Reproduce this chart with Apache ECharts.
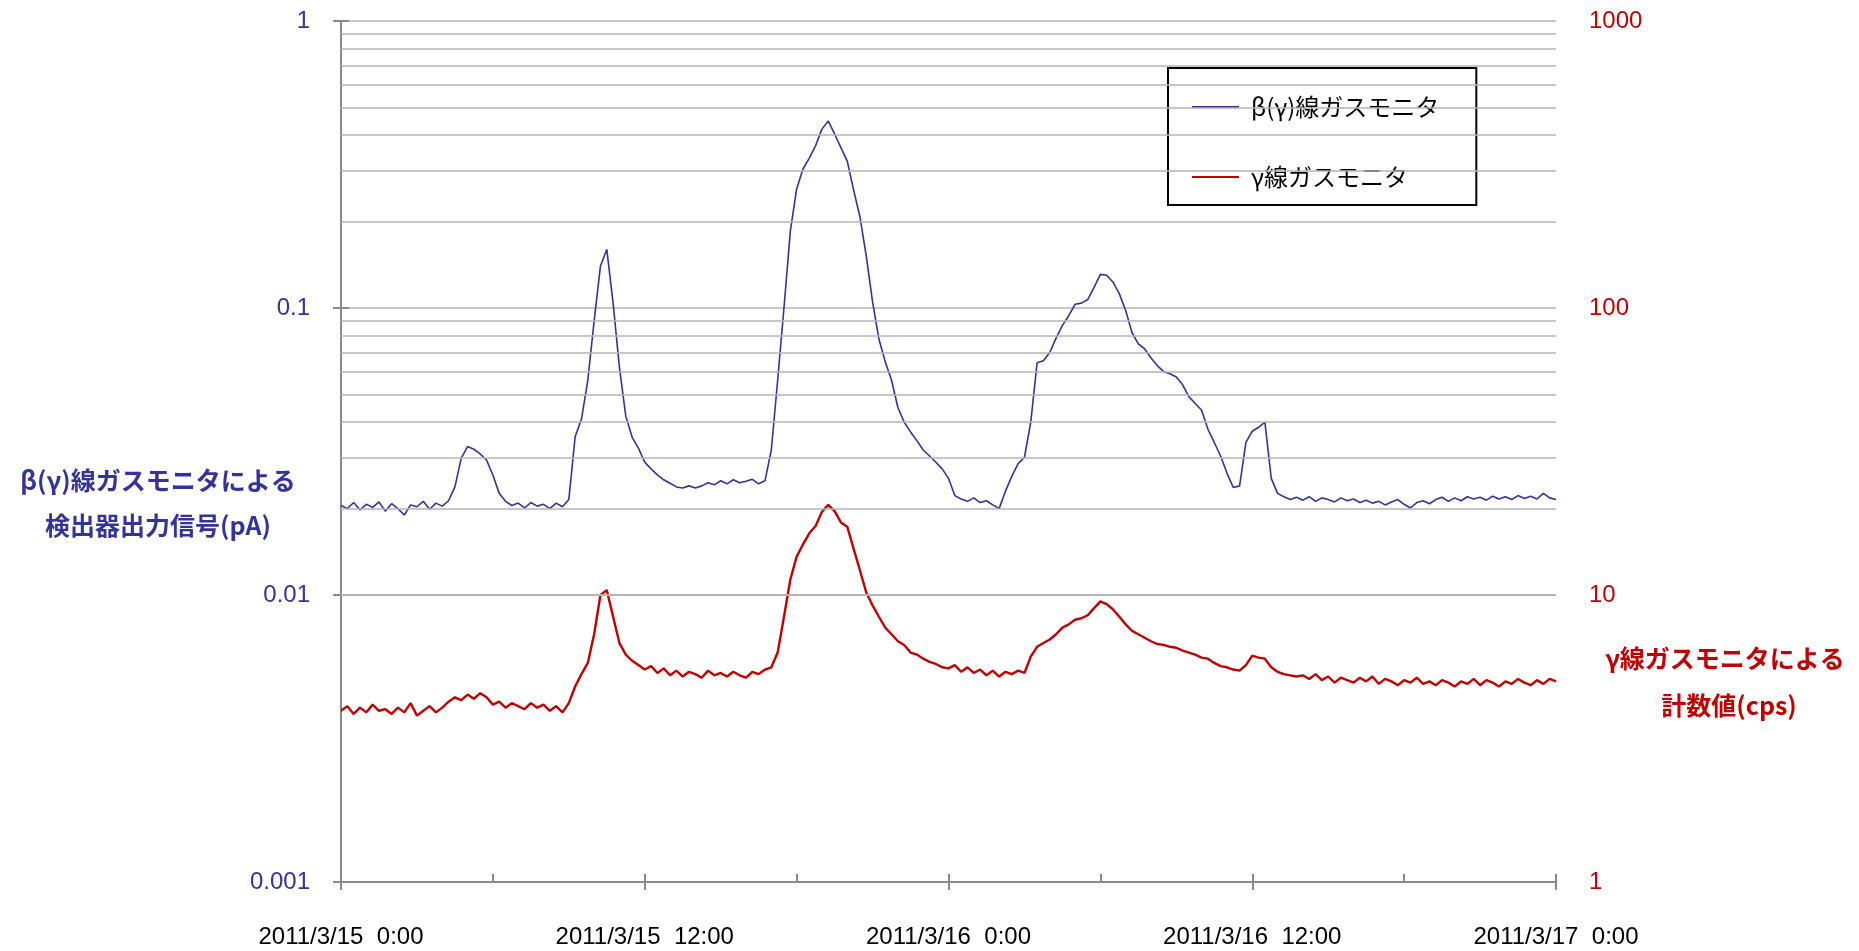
<!DOCTYPE html>
<html>
<head>
<meta charset="utf-8">
<title>ガスモニタ</title>
<script src="https://cdn.jsdelivr.net/npm/echarts@6/dist/echarts.min.js"></script>
<style>
  html, body { margin: 0; padding: 0; background: #fff; }
  #chart { width: 1859px; height: 951px; }
</style>
</head>
<body>
<div id="chart"></div>
<script>
// samples every 15 minutes from 2011/3/15 0:00 (hours since start)
const stepHours = 0.25

const xTickLabels = ['2011/3/15  0:00', '2011/3/15  12:00', '2011/3/16  0:00', '2011/3/16  12:00', '2011/3/17  0:00']

// β(γ)線ガスモニタ 検出器出力信号 (pA)
const blueSignal = [
  0.0205, 0.0200, 0.0210, 0.0198,
  0.0207, 0.0202, 0.0211, 0.0196,
  0.0208, 0.0200, 0.0190, 0.0206,
  0.0203, 0.0212, 0.0199, 0.0209,
  0.0204, 0.0213, 0.0238, 0.0300,
  0.0329, 0.0322, 0.0310, 0.0295,
  0.0262, 0.0226, 0.0212, 0.0205,
  0.0209, 0.0201, 0.0210, 0.0204,
  0.0207, 0.0200, 0.0209, 0.0203,
  0.0215, 0.0356, 0.0410, 0.0560,
  0.0900, 0.1400, 0.1600, 0.1040,
  0.0620, 0.0420, 0.0355, 0.0325,
  0.0290, 0.0275, 0.0262, 0.0252,
  0.0245, 0.0238, 0.0236, 0.0240,
  0.0236, 0.0240, 0.0246, 0.0242,
  0.0250, 0.0244, 0.0252, 0.0246,
  0.0249, 0.0253, 0.0244, 0.0250,
  0.0320, 0.0560, 0.1000, 0.1850,
  0.2600, 0.3050, 0.3330, 0.3680,
  0.4200, 0.4480, 0.4040, 0.3620,
  0.3250, 0.2580, 0.2080, 0.1520,
  0.1050, 0.0780, 0.0650, 0.0560,
  0.0450, 0.0400, 0.0370, 0.0345,
  0.0320, 0.0305, 0.0290, 0.0275,
  0.0255, 0.0222, 0.0216, 0.0212,
  0.0218, 0.0210, 0.0213, 0.0206,
  0.0200, 0.0230, 0.0259, 0.0287,
  0.0302, 0.0400, 0.0645, 0.0655,
  0.0700, 0.0785, 0.0870, 0.0940,
  0.1030, 0.1040, 0.1070, 0.1180,
  0.1310, 0.1300, 0.1230, 0.1120,
  0.0980, 0.0820, 0.0750, 0.0720,
  0.0670, 0.0630, 0.0600, 0.0590,
  0.0575, 0.0540, 0.0490, 0.0465,
  0.0440, 0.0378, 0.0340, 0.0305,
  0.0266, 0.0237, 0.0240, 0.0340,
  0.0372, 0.0384, 0.0400, 0.0255,
  0.0226, 0.0220, 0.0215, 0.0219,
  0.0214, 0.0220, 0.0212, 0.0218,
  0.0215, 0.0211, 0.0218, 0.0213,
  0.0216, 0.0210, 0.0214, 0.0209,
  0.0212, 0.0206, 0.0211, 0.0215,
  0.0207, 0.0201, 0.0210, 0.0213,
  0.0208, 0.0215, 0.0219, 0.0212,
  0.0218, 0.0213, 0.0220, 0.0216,
  0.0219, 0.0214, 0.0221, 0.0216,
  0.0220, 0.0215, 0.0222, 0.0217,
  0.0221, 0.0216, 0.0226, 0.0218,
  0.0215
]

// γ線ガスモニタ 計数値 (cps)
const redCounts = [
  3.95, 4.10, 3.85, 4.05,
  3.90, 4.15, 3.95, 4.00,
  3.85, 4.05, 3.90, 4.20,
  3.80, 3.95, 4.10, 3.90,
  4.05, 4.25, 4.40, 4.30,
  4.50, 4.35, 4.55, 4.40,
  4.15, 4.25, 4.05, 4.20,
  4.10, 4.00, 4.20, 4.05,
  4.15, 3.95, 4.10, 3.90,
  4.20, 4.80, 5.30, 5.80,
  7.30, 10.0, 10.4, 8.40,
  6.80, 6.20, 5.90, 5.70,
  5.50, 5.65, 5.35, 5.55,
  5.25, 5.45, 5.20, 5.40,
  5.30, 5.15, 5.45, 5.25,
  5.35, 5.20, 5.40, 5.25,
  5.15, 5.40, 5.30, 5.50,
  5.60, 6.30, 8.40, 11.3,
  13.6, 15.0, 16.4, 17.4,
  19.5, 20.6, 19.6, 17.9,
  17.3, 14.5, 12.2, 10.2,
  9.20, 8.40, 7.70, 7.30,
  6.90, 6.70, 6.30, 6.20,
  6.00, 5.85, 5.75, 5.60,
  5.55, 5.70, 5.40, 5.60,
  5.35, 5.50, 5.25, 5.45,
  5.20, 5.40, 5.30, 5.45,
  5.35, 6.10, 6.60, 6.80,
  7.00, 7.30, 7.70, 7.90,
  8.20, 8.30, 8.50, 9.00,
  9.50, 9.30, 8.90, 8.40,
  7.90, 7.50, 7.30, 7.10,
  6.90, 6.75, 6.70, 6.60,
  6.55, 6.40, 6.30, 6.20,
  6.05, 6.00, 5.80, 5.65,
  5.60, 5.50, 5.45, 5.70,
  6.15, 6.05, 6.00, 5.60,
  5.40, 5.30, 5.25, 5.20,
  5.25, 5.10, 5.30, 5.05,
  5.20, 4.95, 5.15, 5.05,
  4.95, 5.15, 5.00, 5.20,
  4.90, 5.10, 5.00, 4.85,
  5.05, 4.95, 5.15, 4.90,
  5.00, 4.85, 5.05, 4.95,
  4.80, 5.00, 4.90, 5.10,
  4.85, 5.05, 4.95, 4.80,
  5.00, 4.90, 5.10, 4.95,
  4.85, 5.05, 4.90, 5.10,
  5.00
]

const seriesNames = ['β(γ)線ガスモニタ', 'γ線ガスモニタ']

const BLUE = '#333399'
const RED = '#c00000'
const GRID_GRAY = '#b4b4b4'
const AXIS_GRAY = '#8a8a8a'
const LATIN = '"Liberation Sans", Arial, sans-serif'
const CJK = '"Noto Sans CJK JP", sans-serif'

// minor grid lines 2..9 of each decade on the left (pA) axis
const minorLevels = []
for (const decade of [0.001, 0.01, 0.1]) {
  for (let k = 2; k <= 9; k++) minorLevels.push(+(k * decade).toPrecision(2))
}

const toPairs = (arr) => arr.map((v, i) => [i * stepHours, v])

const chart = echarts.init(document.getElementById('chart'))

const option = {
  animation: false,
  backgroundColor: '#fff',
  grid: { left: 341, right: 303, top: 21, bottom: 69 },
  legend: {
    orient: 'vertical',
    left: 1168,
    top: 68,
    padding: [27, 37, 16, 24],
    itemGap: 46,
    itemWidth: 47,
    itemHeight: 2,
    icon: 'rect',
    borderColor: '#000',
    borderWidth: 2,
    backgroundColor: '#fff',
    textStyle: { fontFamily: CJK, fontSize: 24, color: '#000', padding: [0, 0, 0, 7] },
    data: seriesNames
  },
  xAxis: [
    {
      type: 'value',
      min: 0,
      max: 48,
      interval: 12,
      axisLine: { lineStyle: { color: AXIS_GRAY, width: 2 } },
      axisTick: { show: true, inside: false, length: 8, lineStyle: { color: AXIS_GRAY, width: 2 } },
      splitLine: { show: false },
      axisLabel: {
        margin: 43,
        color: '#000',
        fontFamily: LATIN,
        fontSize: 24,
        formatter: (v) => xTickLabels[Math.round(v / 12)]
      }
    },
    {
      // inner tick marks every 6 hours
      type: 'value',
      position: 'bottom',
      min: 0,
      max: 48,
      interval: 6,
      axisLine: { show: false },
      axisTick: { show: true, inside: true, length: 8, lineStyle: { color: AXIS_GRAY, width: 2 } },
      axisLabel: { show: false },
      splitLine: { show: false }
    }
  ],
  yAxis: [
    {
      type: 'log',
      logBase: 10,
      min: 0.001,
      max: 1,
      position: 'left',
      axisLine: { show: true, lineStyle: { color: AXIS_GRAY, width: 2 } },
      axisTick: { show: true, inside: false, length: 8, lineStyle: { color: AXIS_GRAY, width: 2 } },
      splitLine: { show: true, lineStyle: { color: GRID_GRAY, width: 1.5 } },
      axisLabel: {
        margin: 31,
        color: BLUE,
        fontFamily: LATIN,
        fontSize: 24,
        formatter: (v) => String(Number(Number(v).toPrecision(1)))
      }
    },
    {
      type: 'log',
      logBase: 10,
      min: 1,
      max: 1000,
      position: 'right',
      axisLine: { show: true, lineStyle: { color: AXIS_GRAY, width: 2 } },
      axisTick: { show: true, inside: false, length: 8, lineStyle: { color: AXIS_GRAY, width: 2 } },
      splitLine: { show: false },
      axisLabel: {
        margin: 33,
        color: RED,
        fontFamily: LATIN,
        fontSize: 24,
        formatter: (v) => String(Math.round(v))
      }
    }
  ],
  graphic: [
    {
      type: 'text', x: 158, y: 480, z: 10,
      style: { text: 'β(γ)線ガスモニタによる', fill: BLUE, font: 'bold 25px ' + CJK, align: 'center', verticalAlign: 'middle' }
    },
    {
      type: 'text', x: 158, y: 525, z: 10,
      style: { text: '検出器出力信号(pA)', fill: BLUE, font: 'bold 25px ' + CJK, align: 'center', verticalAlign: 'middle' }
    },
    {
      type: 'text', x: 1725, y: 658, z: 10,
      style: { text: 'γ線ガスモニタによる', fill: RED, font: 'bold 25px ' + CJK, align: 'center', verticalAlign: 'middle' }
    },
    {
      type: 'text', x: 1729, y: 705, z: 10,
      style: { text: '計数値(cps)', fill: RED, font: 'bold 25px ' + CJK, align: 'center', verticalAlign: 'middle' }
    }
  ],
  series: [
    {
      // background minor grid lines
      name: 'grid',
      type: 'line',
      data: [],
      z: 1,
      silent: true,
      markLine: {
        silent: true,
        symbol: ['none', 'none'],
        label: { show: false },
        lineStyle: { color: GRID_GRAY, width: 1.5, type: 'solid' },
        data: minorLevels.map((v) => ({ yAxis: v }))
      }
    },
    {
      name: seriesNames[0],
      type: 'line',
      xAxisIndex: 0,
      yAxisIndex: 0,
      data: toPairs(blueSignal),
      symbol: 'none',
      showSymbol: false,
      z: 3,
      lineStyle: { color: BLUE, width: 1.6 },
      itemStyle: { color: BLUE }
    },
    {
      name: seriesNames[1],
      type: 'line',
      xAxisIndex: 0,
      yAxisIndex: 1,
      data: toPairs(redCounts),
      symbol: 'none',
      showSymbol: false,
      z: 3,
      lineStyle: { color: RED, width: 2.4 },
      itemStyle: { color: RED }
    }
  ]
}

chart.setOption(option)
window.addEventListener('resize', () => chart.resize())
</script>
</body>
</html>
